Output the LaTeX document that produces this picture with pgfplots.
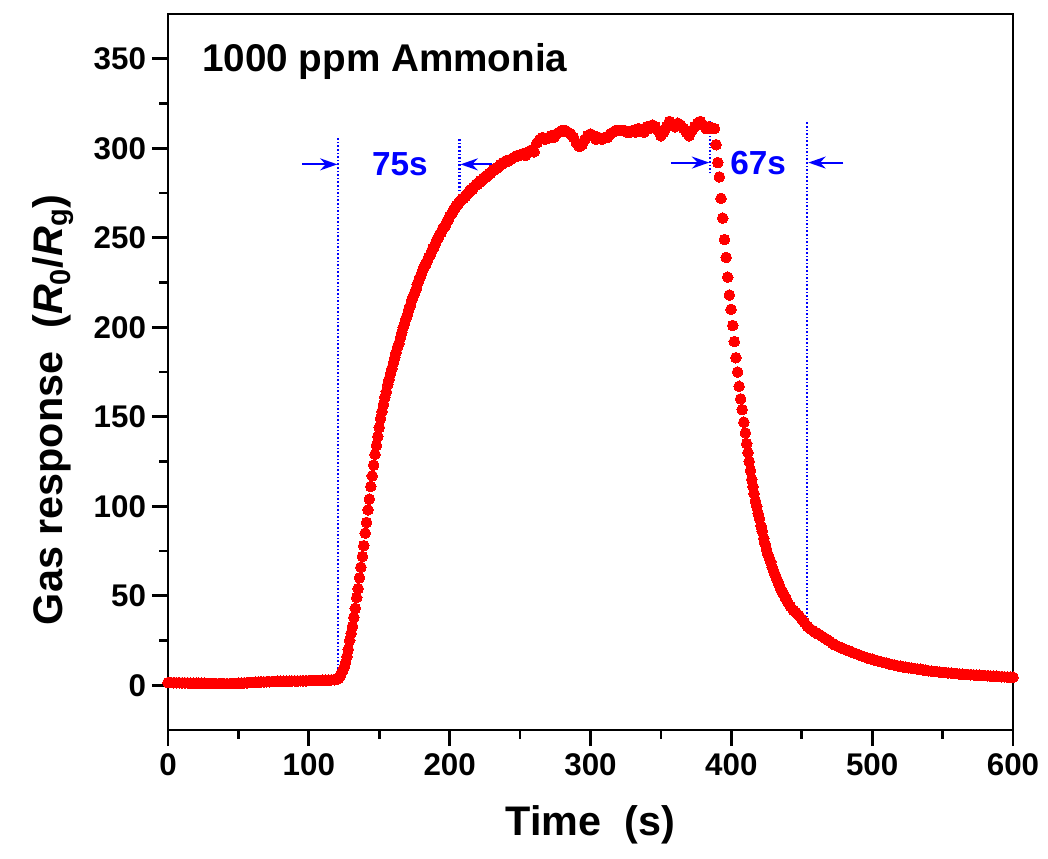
\documentclass[border=0pt]{standalone}
\usepackage{pgfplots}
\pgfplotsset{compat=1.18}
\usepackage{fontspec}
\setmainfont{Liberation Sans}
\usetikzlibrary{arrows.meta}

\pgfplotstableread{
t v
0 1.5
2 1.5
4 1.4
6 1.4
8 1.4
10 1.3
12 1.3
14 1.3
16 1.2
18 1.2
20 1.2
22 1.1
24 1.1
26 1.1
28 1.0
30 1.0
32 1.0
34 1.0
36 0.9
38 0.9
40 0.9
42 0.9
44 0.9
46 1.0
48 1.0
50 1.1
52 1.2
54 1.3
56 1.4
58 1.5
60 1.6
62 1.7
64 1.8
66 1.9
68 1.9
70 2.0
72 2.0
74 2.1
76 2.1
78 2.2
80 2.2
82 2.3
84 2.3
86 2.3
88 2.4
90 2.4
92 2.4
94 2.5
96 2.5
98 2.5
100 2.6
102 2.6
104 2.6
106 2.7
108 2.7
110 2.8
112 2.8
114 2.9
116 3.0
118 3.1
120 3.3
121 3.8
122 5
123 6.5
124 8
125 10
126 12.5
127 16
128 20
129 25
130 29
131 33
132 38
133 43
134 49
135 54
136 60
137 66
138 72
139 78
140 85
141 91
142 98
143 104
144 111
145 117
146 123
147 129
148 134
149 139
150 144
151 149
152 153
153 157
154 161
155 164
156 168
157 171
158 174
159 177
160 180
161 183
162 186
163 189
164 191
165 194
166 197
167 200
168 202
169 205
170 207
171 210
172 212
173 215
174 217
175 219
176 221
177 224
178 226
179 228
180 230
181 232
182 234
183 235
184 237
185 239
186 240
187 242
188 244
189 245
190 247
191 249
192 250
193 252
194 253
195 255
196 256
197 257
198 259
199 260
200 262
201 263
202 264
203 266
204 267
205 268
206 269
207 270
208 271
209 272
210 272
211 273
212 274
213 275
214 276
215 277
216 277
217 278
218 279
219 280
220 280
221 281
222 282
223 282
224 283
225 284
226 284
227 285
228 286
229 286
230 287
231 288
232 288
233 289
234 289
235 290
236 291
237 291
238 292
239 292
240 293
242 293
244 294
246 295
248 296
250 296
252 297
254 296
256 298
258 299
260 298
262 303
264 305
266 306
268 305
270 306
272 307
274 306
276 308
278 309
280 310
282 310
284 309
286 308
288 306
290 303
292 301
294 302
296 305
298 307
300 308
302 307
304 305
306 306
308 305
310 306
312 306
314 308
316 309
318 310
320 310
322 310
324 310
326 309
328 309
330 310
332 309
334 311
336 310
338 309
340 312
342 311
344 313
346 312
348 310
350 307
352 309
354 312
356 315
358 313
360 312
362 314
364 313
366 311
368 309
370 307
372 310
374 312
376 314
378 315
380 313
382 311
384 312
386 311
388.0 311
389.2 302
390.4 292
391.5 284
392.7 272
393.9 261
395.1 249
396.3 239
397.4 228
398.6 218
399.8 210
401.0 201
402.1 192
403.2 183
404.4 175
405.5 167
406.6 160
407.7 154
408.9 147
410.0 141
410.9 135
411.8 130
412.7 125
413.6 120
414.5 115
415.4 111
416.2 107
417.1 103
418.0 100
419 96
420 93
421 89
422 86
423 82
424 79
425 76
426 73
427 71
428 69
429 66
430 64
431 62
432 60
433 58
434 56
435 54
436 52.5
437 51
438 49.5
439 48
440 46.5
442 44
444 42
446 40.5
448 39
450 37
452 35
454 33
456 31.5
458 30.5
460 29.5
462 28.5
464 27.5
466 26.5
468 25.5
470 24.5
472 23.3
474 22.4
476 21.6
478 21.0
480 20.3
482 19.6
484 19.0
486 18.4
488 17.8
490 17.2
492 16.6
494 16.0
496 15.4
498 15.0
500 14.5
502 14.0
504 13.6
506 13.2
508 12.8
510 12.4
512 12.0
514 11.6
516 11.2
518 10.9
520 10.6
522 10.3
524 10.1
526 9.8
528 9.6
530 9.3
532 9.1
534 8.9
536 8.6
538 8.4
540 8.1
542 7.9
544 7.7
546 7.6
548 7.4
550 7.2
552 7.1
554 6.9
556 6.8
558 6.6
560 6.5
562 6.3
564 6.2
566 6.1
568 6.0
570 5.9
572 5.8
574 5.7
576 5.6
578 5.5
580 5.4
582 5.3
584 5.2
586 5.1
588 5.0
590 4.9
592 4.8
594 4.7
596 4.6
598 4.5
600 4.5
}\gasdata

\begin{document}
\begin{tikzpicture}
\useasboundingbox (-126pt,-96pt) rectangle (660pt,547.5pt);
\begin{axis}[
  at={(0,0)}, anchor=south west,
  scale only axis,
  width=633.75pt, height=537pt,
  xmin=0, xmax=600, ymin=-25, ymax=375,
  xtick={0,100,...,600}, ytick={0,50,...,350},
  minor x tick num=1, minor y tick num=1,
  xtick pos=bottom, ytick pos=left,
  tick align=outside,
  major tick length=12pt, minor tick length=6.5pt,
  every tick/.style={line width=2.2pt, black},
  every minor tick/.style={line width=2pt, black},
  axis line style={line width=2.2pt},
  /pgf/number format/assume math mode=true,
  ticklabel style={font=\fontsize{23.5}{23.5}\selectfont\bfseries},
  yticklabel style={xshift=-1pt},
  xticklabel style={yshift=-2pt},
  xlabel={Time\ \ (s)},
  xlabel style={at={(axis description cs:0.5,-0.148)}, anchor=base, font=\fontsize{31}{31}\selectfont\bfseries},
  ylabel={Gas response\ \ (\textit{R}\textsubscript{0}/\textit{R}\textsubscript{g})},
  ylabel style={at={(axis description cs:-0.1254,0.447)}, anchor=base, rotate=0, font=\fontsize{31}{31}\selectfont\bfseries},
]
\addplot[only marks, red, mark=*, mark size=4pt, mark options={draw=red, fill=red, line width=0pt}] table[x=t, y=v] {\gasdata};

\addplot[blue, line width=1.6pt, dash pattern=on 1.2pt off 1.5pt] coordinates {(121,3) (121,306)};
\addplot[blue, line width=1.6pt, dash pattern=on 1.2pt off 1.5pt] coordinates {(207,276) (207,305)};
\addplot[blue, line width=1.6pt, dash pattern=on 1.2pt off 1.5pt] coordinates {(385,286) (385,315)};
\addplot[blue, line width=1.6pt, dash pattern=on 1.2pt off 1.5pt] coordinates {(454,32) (454,315)};

\draw[blue, line width=1.5pt, -{Stealth[length=13pt,width=9pt]}] (axis cs:95.4,291) -- (axis cs:120.3,291);
\draw[blue, line width=1.5pt, -{Stealth[length=13pt,width=9pt]}] (axis cs:230,291) -- (axis cs:207.7,291);
\draw[blue, line width=1.5pt, -{Stealth[length=13pt,width=9pt]}] (axis cs:357,292) -- (axis cs:384.3,292);
\draw[blue, line width=1.5pt, -{Stealth[length=13pt,width=9pt]}] (axis cs:479.6,292) -- (axis cs:454.7,292);

\node[blue, font=\fontsize{25}{25}\selectfont\bfseries] at (axis cs:164.7,291) {75s};
\node[blue, font=\fontsize{25}{25}\selectfont\bfseries] at (axis cs:419,292) {67s};

\node[anchor=west, inner sep=0pt, font=\fontsize{29}{29}\selectfont\bfseries] at (axis description cs:0.04,0.933) {1000 ppm Ammonia};
\end{axis}
\end{tikzpicture}
\end{document}
